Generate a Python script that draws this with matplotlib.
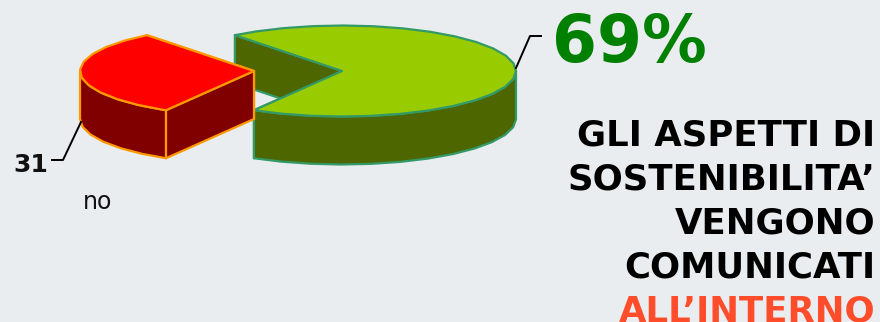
import numpy as np
import matplotlib
matplotlib.use('Agg')
import matplotlib.pyplot as plt
from matplotlib.patches import Polygon

# survey answers, percent
labels = ['si', 'no']
values = [69, 31]
value_texts = ['69%', '31']
caption_black = ['GLI ASPETTI DI', 'SOSTENIBILITA\u2019', 'VENGONO', 'COMUNICATI']
caption_red = 'ALL\u2019INTERNO'

BG = '#E9EDEF'
RX, RY = 174, 45.5
DEPTH = 48


def rim(cx, cy, a0, a1, dy=0, step=10):
    # coarse outline, the pie edge is a visible polyline
    t = np.radians(np.arange(a0, a1, step).tolist() + [a1])
    return np.column_stack([cx + RX * np.cos(t), cy - RY * np.sin(t) + dy])


def draw_slice(ax, cx, cy, a0, a1, top, side, edge):
    kw = dict(facecolor=side, edgecolor=edge, lw=1.6, joinstyle='round')
    # cut faces first
    for a in (a0, a1):
        p = rim(cx, cy, a, a)[0]
        ax.add_patch(Polygon([(cx, cy), p, p + [0, DEPTH], (cx, cy + DEPTH)], **kw))
    # outer wall, only the front half of the rim shows
    for lo, hi in ((max(a0, 180), min(a1, 360)), (max(a0, -180), min(a1, 0))):
        if hi > lo:
            ax.add_patch(Polygon(np.vstack([rim(cx, cy, lo, hi),
                                            rim(cx, cy, lo, hi, DEPTH)[::-1]]), **kw))
    ax.add_patch(Polygon(np.vstack([[(cx, cy)], rim(cx, cy, a0, a1)]),
                         facecolor=top, edgecolor=edge, lw=1.6, joinstyle='round'))


fig = plt.figure(figsize=(8.8, 3.22), dpi=100, facecolor=BG)
ax = fig.add_axes([0, 0, 1, 1])
ax.set_xlim(0, 880)
ax.set_ylim(322, 0)
ax.axis('off')

# red slice is pulled out to the left of the green one
red_sweep = values[1] / sum(values) * 360
red_start = 128
red_end = red_start + red_sweep
draw_slice(ax, 342, 71, red_end - 360, red_start, '#99CC00', '#4D6600', '#339966')
draw_slice(ax, 254, 71, red_start, red_end, '#FF0000', '#800000', '#FF9900')

# leader lines
ax.plot([516, 530, 541], [68, 36, 36], color='black', lw=1.4)
ax.plot([81, 63, 52], [122, 160, 160], color='black', lw=1.4)

font = ['DejaVu Sans']
ax.text(552, 62, value_texts[0], color='#008000', fontsize=46.5, fontweight='bold',
        family=font, ha='left', va='baseline')
ax.text(13, 172, value_texts[1], color='#111111', fontsize=18, fontweight='bold',
        family=font, ha='left', va='baseline')
ax.text(83, 209, labels[1], color='#111111', fontsize=17, family=font,
        ha='left', va='baseline')

baselines = [145, 189, 233, 278]
for line, y in zip(caption_black, baselines):
    ax.text(875, y, line, color='black', fontsize=25.6, fontweight='bold', family=font,
            ha='right', va='baseline')
ax.text(875, 321, caption_red, color='#FF4D2B', fontsize=25.6, fontweight='bold',
        family=font, ha='right', va='baseline')

fig.savefig('out.png', dpi=100, facecolor=BG)
